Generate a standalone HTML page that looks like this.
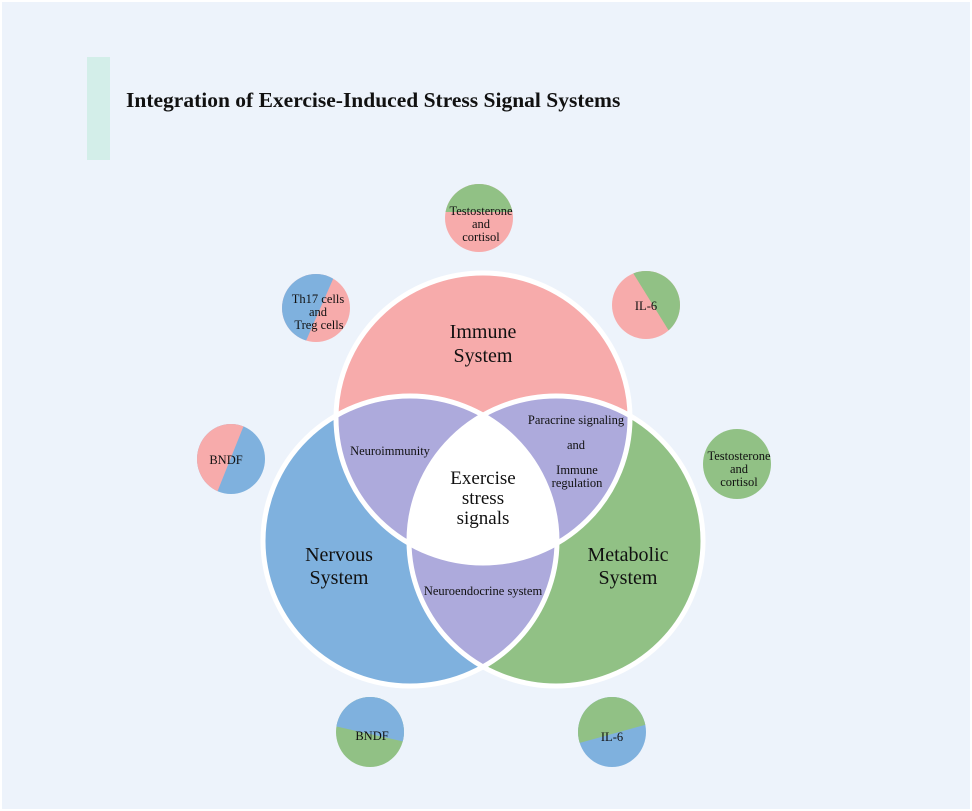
<!DOCTYPE html>
<html><head><style>
body{margin:0;background:#fff;}
svg{display:block}
text{font-family:"Liberation Serif",serif;fill:#111;}
</style></head><body>
<svg width="972" height="811" viewBox="0 0 972 811">
<rect x="2" y="2" width="968" height="807" fill="#edf3fb"/>
<rect x="87" y="57" width="23" height="103" fill="#d3eee9"/>
<text x="126" y="107" font-size="21.5" font-weight="bold">Integration of Exercise-Induced Stress Signal Systems</text>
<defs>
<clipPath id="cI"><ellipse cx="483" cy="418" rx="147" ry="145"/></clipPath>
<clipPath id="cN"><ellipse cx="410" cy="541" rx="147" ry="145"/></clipPath>
<clipPath id="cM"><ellipse cx="556" cy="541" rx="147" ry="145"/></clipPath>
<clipPath id="s1"><ellipse cx="479" cy="218" rx="34" ry="34"/></clipPath>
<clipPath id="s2"><ellipse cx="316" cy="308" rx="34" ry="34"/></clipPath>
<clipPath id="s3"><ellipse cx="646" cy="305" rx="34" ry="34"/></clipPath>
<clipPath id="s4"><ellipse cx="231" cy="459" rx="34" ry="35"/></clipPath>
<clipPath id="s6"><ellipse cx="370" cy="732" rx="34" ry="35"/></clipPath>
<clipPath id="s7"><ellipse cx="612" cy="732" rx="34" ry="35"/></clipPath>
</defs>
<ellipse cx="483" cy="418" rx="147" ry="145" fill="#f7abab"/>
<ellipse cx="410" cy="541" rx="147" ry="145" fill="#7fb1de"/>
<ellipse cx="556" cy="541" rx="147" ry="145" fill="#91c185"/>
<g clip-path="url(#cI)"><ellipse cx="410" cy="541" rx="147" ry="145" fill="#adaadc"/><ellipse cx="556" cy="541" rx="147" ry="145" fill="#adaadc"/></g>
<g clip-path="url(#cN)"><ellipse cx="556" cy="541" rx="147" ry="145" fill="#adaadc"/></g>
<g clip-path="url(#cI)"><g clip-path="url(#cN)"><ellipse cx="556" cy="541" rx="147" ry="145" fill="#fff"/></g></g>
<g fill="none" stroke="#fff" stroke-width="5">
<ellipse cx="483" cy="418" rx="147" ry="145"/>
<ellipse cx="410" cy="541" rx="147" ry="145"/>
<ellipse cx="556" cy="541" rx="147" ry="145"/>
</g>
<text font-size="20" text-anchor="middle"><tspan x="483" y="338">Immune</tspan><tspan x="483" y="362">System</tspan></text>
<text font-size="20" text-anchor="middle"><tspan x="339" y="561">Nervous</tspan><tspan x="339" y="584">System</tspan></text>
<text font-size="20" text-anchor="middle"><tspan x="628" y="561">Metabolic</tspan><tspan x="628" y="584">System</tspan></text>
<text font-size="19" text-anchor="middle"><tspan x="483" y="484">Exercise</tspan><tspan x="483" y="504">stress</tspan><tspan x="483" y="524">signals</tspan></text>
<text font-size="12.5" x="390" y="455" text-anchor="middle">Neuroimmunity</text>
<text font-size="12.5" text-anchor="middle"><tspan x="576" y="424">Paracrine signaling</tspan><tspan x="576" y="449">and</tspan><tspan x="577" y="474">Immune</tspan><tspan x="577" y="487">regulation</tspan></text>
<text font-size="12.5" x="483" y="595" text-anchor="middle">Neuroendocrine system</text>
<!-- small circles -->
<g clip-path="url(#s1)"><rect x="440" y="180" width="80" height="80" fill="#f7abab"/><rect x="440" y="180" width="80" height="32" fill="#91c185"/></g>
<text font-size="12.5" text-anchor="middle"><tspan x="481" y="215">Testosterone</tspan><tspan x="481" y="228">and</tspan><tspan x="481" y="241">cortisol</tspan></text>
<g clip-path="url(#s2)"><rect x="280" y="270" width="80" height="80" fill="#f7abab"/><polygon points="280,270 337,270 302,350 280,350" fill="#7fb1de"/></g>
<text font-size="12.5" text-anchor="middle"><tspan x="318" y="303">Th17 cells</tspan><tspan x="318" y="316">and</tspan><tspan x="319" y="329">Treg cells</tspan></text>
<g clip-path="url(#s3)"><rect x="610" y="270" width="80" height="80" fill="#f7abab"/><polygon points="625,260 700,260 700,352 682,352" fill="#91c185"/></g>
<text font-size="12.5" x="646" y="310" text-anchor="middle">IL-6</text>
<g clip-path="url(#s4)"><rect x="195" y="420" width="80" height="80" fill="#7fb1de"/><polygon points="195,420 246,420 214,500 195,500" fill="#f7abab"/></g>
<text font-size="12.5" x="226" y="464" text-anchor="middle">BNDF</text>
<ellipse cx="737" cy="464" rx="34" ry="35" fill="#91c185"/>
<text font-size="12.5" text-anchor="middle"><tspan x="739" y="460">Testosterone</tspan><tspan x="739" y="473">and</tspan><tspan x="739" y="486">cortisol</tspan></text>
<g clip-path="url(#s6)"><rect x="330" y="690" width="80" height="90" fill="#91c185"/><polygon points="330,690 410,690 410,743 330,725" fill="#7fb1de"/></g>
<text font-size="12.5" x="372" y="740" text-anchor="middle">BNDF</text>
<g clip-path="url(#s7)"><rect x="572" y="690" width="80" height="90" fill="#7fb1de"/><polygon points="572,690 652,690 652,723 572,745" fill="#91c185"/></g>
<text font-size="12.5" x="612" y="741" text-anchor="middle">IL-6</text>
</svg>
</body></html>
